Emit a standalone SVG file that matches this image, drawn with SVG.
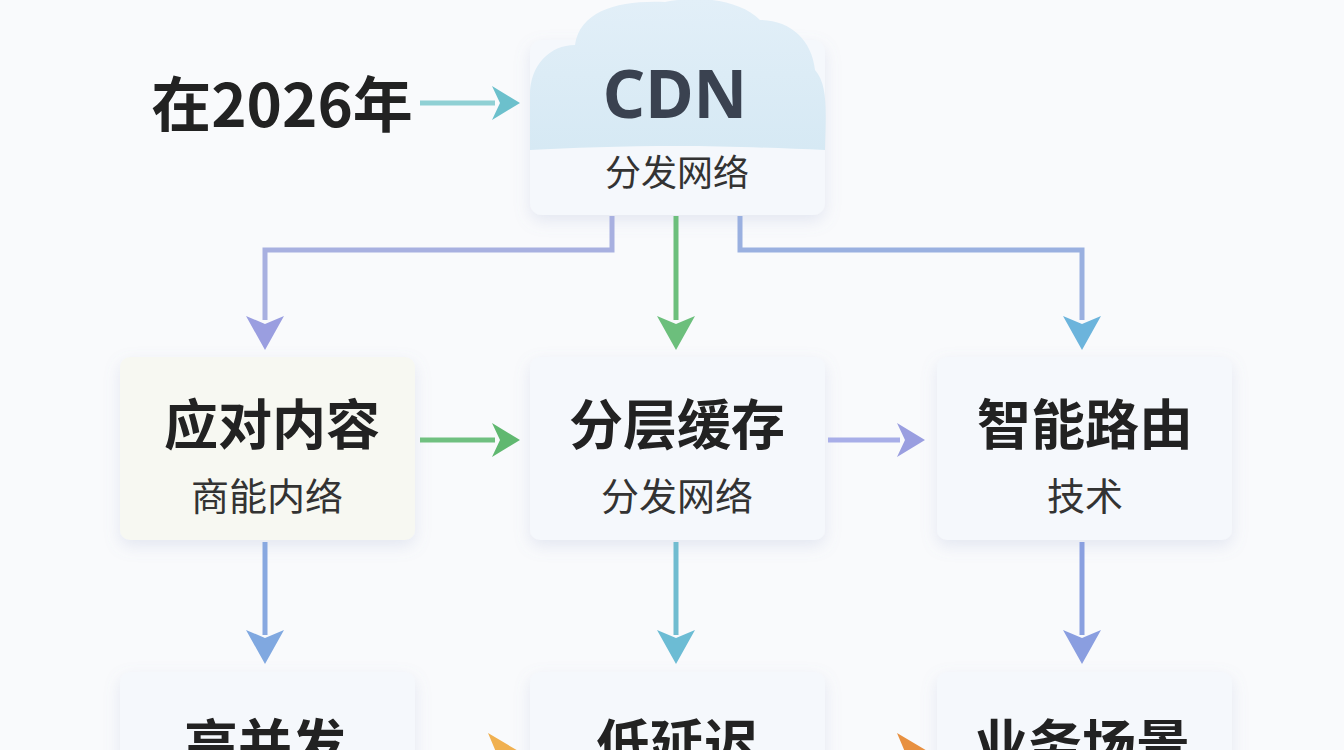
<svg xmlns="http://www.w3.org/2000/svg" width="1344" height="750" viewBox="0 0 1344 750">
<defs>
<filter id="sh" x="-20%" y="-20%" width="140%" height="150%"><feDropShadow dx="0" dy="6" stdDeviation="8" flood-color="#8090c0" flood-opacity="0.18"/></filter>
<linearGradient id="cl" x1="0" y1="0" x2="0" y2="1"><stop offset="0" stop-color="#e2eff8"/><stop offset="1" stop-color="#d6e9f4"/></linearGradient>
</defs>
<style>
.box{fill:#f5f8fc;filter:url(#sh)}
.t{font-family:"Noto Sans CJK SC","Noto Sans",sans-serif;font-weight:700;fill:#222;text-anchor:middle}
.s{font-family:"Noto Sans CJK SC","Noto Sans",sans-serif;font-weight:400;fill:#333;text-anchor:middle}
.ln{fill:none;stroke-width:5}
</style>
<rect width="1344" height="750" fill="#f9fafc"/>
<g id="label2026"><text class="t" x="282" y="127" font-size="60">在2026年</text></g>
<g id="cdn">
<rect class="box" x="530" y="40" width="295" height="175" rx="12"/>
<path d="M530,150 L530,95 C530,65 550,45 575,45 C580,10 620,0 665,2 C700,-5 740,0 760,20 C790,20 812,40 815,70 C828,85 826,110 825,150 C780,148 720,146 680,146 C620,146 570,148 530,150 Z" fill="url(#cl)"/>
<text class="t" x="675" y="118" font-size="66" style="fill:#3a4250;font-family:'Noto Sans','Open Sans',sans-serif">CDN</text>
<text class="s" x="677" y="186" font-size="36">分发网络</text>
</g>
<g id="n1"><rect class="box" x="120" y="357" width="295" height="183" rx="10" style="fill:#f7f8f2"/>
<text class="t" x="272" y="445" font-size="54">应对内容</text><text class="s" x="267" y="510" font-size="38">商能内络</text></g>
<g id="n2"><rect class="box" x="530" y="357" width="295" height="183" rx="10"/>
<text class="t" x="677" y="445" font-size="54">分层缓存</text><text class="s" x="677" y="510" font-size="38">分发网络</text></g>
<g id="n3"><rect class="box" x="937" y="357" width="295" height="183" rx="10"/>
<text class="t" x="1085" y="445" font-size="54">智能路由</text><text class="s" x="1085" y="510" font-size="38">技术</text></g>
<g id="n4"><rect class="box" x="120" y="672" width="295" height="120" rx="10"/>
<text class="t" x="265" y="765" font-size="54">高并发</text></g>
<g id="n5"><rect class="box" x="530" y="672" width="295" height="120" rx="10"/>
<text class="t" x="677" y="765" font-size="54">低延迟</text></g>
<g id="n6"><rect class="box" x="937" y="672" width="295" height="120" rx="10"/>
<text class="t" x="1082" y="765" font-size="54">业务场景</text></g>
<g id="connectors">
<line class="ln" x1="420" y1="103" x2="495" y2="103" stroke="#90d0d4"/><path d="M492,86 L520,103 L492,120 L500,103 z" fill="#6cc0cc"/>
<path class="ln" d="M612,216 V250 H265 V320" stroke="#a8b0e0"/><path d="M246,316 L265,350 L284,316 L265,324 z" fill="#9a9ee0"/>
<path class="ln" d="M676,216 V320" stroke="#6cbf7c"/><path d="M657,316 L676,350 L695,316 L676,324 z" fill="#6cbf7c"/>
<path class="ln" d="M740,216 V250 H1082 V320" stroke="#9ab0e0"/><path d="M1063,316 L1082,350 L1101,316 L1082,324 z" fill="#6cb4dc"/>
<line class="ln" x1="420" y1="440" x2="495" y2="440" stroke="#70c080"/><path d="M492,423 L520,440 L492,457 L500,440 z" fill="#60b870"/>
<line class="ln" x1="828" y1="440" x2="900" y2="440" stroke="#a8aee8"/><path d="M897,423 L925,440 L897,457 L905,440 z" fill="#9a9ee0"/>
<line class="ln" x1="265" y1="542" x2="265" y2="635" stroke="#88a8e0"/><path d="M246,630 L265,664 L284,630 L265,638 z" fill="#80a8e0"/>
<line class="ln" x1="676" y1="542" x2="676" y2="635" stroke="#70bcd0"/><path d="M657,630 L676,664 L695,630 L676,638 z" fill="#6cbcd4"/>
<line class="ln" x1="1082" y1="542" x2="1082" y2="635" stroke="#8aa0e0"/><path d="M1063,630 L1082,664 L1101,630 L1082,638 z" fill="#8a9ee0"/>
<path d="M488,733 L520,752 L488,770 L496,752 z" fill="#f0b050"/>
<path d="M897,733 L929,752 L897,770 L905,752 z" fill="#e89040"/>
</g>
</svg>
